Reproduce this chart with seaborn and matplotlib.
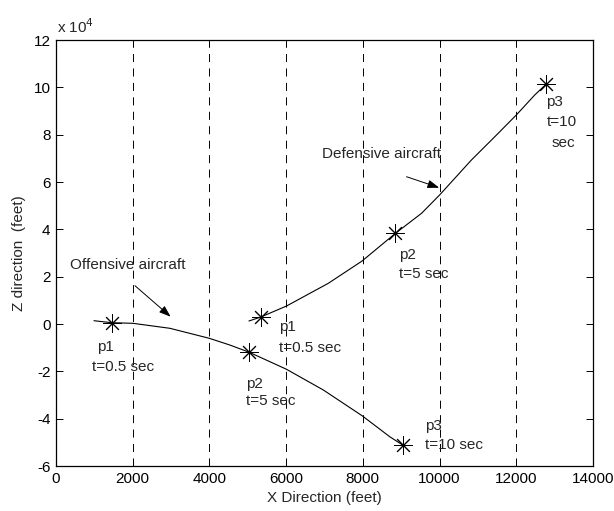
import matplotlib
matplotlib.use("Agg")
import matplotlib.pyplot as plt
import seaborn as sns
import pandas as pd
from matplotlib.ticker import FuncFormatter

# ---- data ----
off_x = [990, 1450, 2000, 2970, 3995, 4530, 5040, 6010, 6970, 7990, 8700, 9035]
off_z = [1390, 550, 300, -1820, -6040, -8870, -11960, -19140, -27890, -38870, -47620, -51120]
def_x = [5030, 5340, 6010, 7100, 7980, 8850, 9530, 10000, 10830, 11440, 12000, 12480, 12770]
def_z = [1270, 2950, 7600, 17200, 26620, 38320, 46770, 54500, 69290, 79130, 88300, 96750, 101200]

# marked points p1, p2, p3
off_px = [1450, 5040, 9035]
off_pz = [550, -11960, -51120]
def_px = [5340, 8850, 12770]
def_pz = [2950, 38320, 101200]

grid_x = [2000, 4000, 6000, 8000, 10000, 12000]
x_ticks = [0, 2000, 4000, 6000, 8000, 10000, 12000, 14000]
y_ticks = [-60000, -40000, -20000, 0, 20000, 40000, 60000, 80000, 100000, 120000]

sns.set_style("ticks")
plt.rcParams['font.family'] = ['Liberation Sans', 'DejaVu Sans']
plt.rcParams['lines.scale_dashes'] = False
FS = 11

fig = plt.figure(figsize=(6.14, 5.11), dpi=100)
ax = fig.add_axes([56/614, 1-466/511, (593-56)/614, (466-40)/511])

# dashed vertical grid lines
for gx in grid_x:
    ax.axvline(gx, color='black', lw=0.7, linestyle=(0, (5.8, 4.6)), zorder=1)

lines = pd.concat([
    pd.DataFrame({'x': off_x, 'z': off_z, 'aircraft': 'Offensive'}),
    pd.DataFrame({'x': def_x, 'z': def_z, 'aircraft': 'Defensive'}),
])
sns.lineplot(data=lines, x='x', y='z', hue='aircraft', units='aircraft',
             estimator=None, sort=False, palette=['black', 'black'],
             lw=0.8, legend=False, ax=ax, zorder=3)

pts = pd.DataFrame({'x': off_px + def_px, 'z': off_pz + def_pz})
sns.scatterplot(data=pts, x='x', y='z', marker=(8, 2, 0), s=160,
                color='black', linewidth=0.7, ax=ax, zorder=4)

ax.set_xlim(0, 14000)
ax.set_ylim(-60000, 120000)
ax.set_xticks(x_ticks)
ax.set_yticks(y_ticks)
ax.yaxis.set_major_formatter(FuncFormatter(lambda v, p: f"{v/1e4:g}"))
ax.tick_params(direction='in', length=5, width=0.7, labelsize=FS,
               top=True, right=True, colors='black', pad=4)
for s in ax.spines.values():
    s.set_linewidth(0.9)
    s.set_color('black')
    s.set_visible(True)

ax.set_xlabel("X Direction (feet)", fontsize=FS, labelpad=4)
ax.set_ylabel("Z direction  (feet)", fontsize=FS, labelpad=5)
fig.text(57/614, 1-27/511, r"x 10$^4$", fontsize=FS, ha='left', va='center')

# annotations
arrow = dict(arrowstyle='-|>,head_length=0.7,head_width=0.25',
             color='black', lw=0.7, shrinkA=0, shrinkB=0)
ax.annotate("", xy=(2989, 3080), xytext=(2059, 16180), arrowprops=arrow)
ax.text(365, 24930, "Offensive aircraft", fontsize=FS, ha='left', va='center')
ax.annotate("", xy=(9989, 57590), xytext=(9139, 62230), arrowprops=arrow)
ax.text(6924, 71830, "Defensive aircraft", fontsize=FS, ha='left', va='center')

labels = [
    (1060, -9590, "p1"), (930, -18040, "t=0.5 sec"),
    (5819, -1390, "p1"), (5812, -10140, "t=0.5 sec"),
    (4951, -25480, "p2"), (4951, -32530, "t=5 sec"),
    (9616, -43100, "p3"), (9616, -51120, "t=10 sec"),
    (8939, 29150, "p2"), (8939, 21130, "t=5 sec"),
    (12788, 93920, "p3"), (12788, 85470, "t=10"), (12918, 76600, "sec"),
]
for lx, ly, s in labels:
    ax.text(lx, ly, s, fontsize=FS, ha='left', va='center', zorder=5)

fig.savefig("out.png", dpi=100, facecolor='white')
